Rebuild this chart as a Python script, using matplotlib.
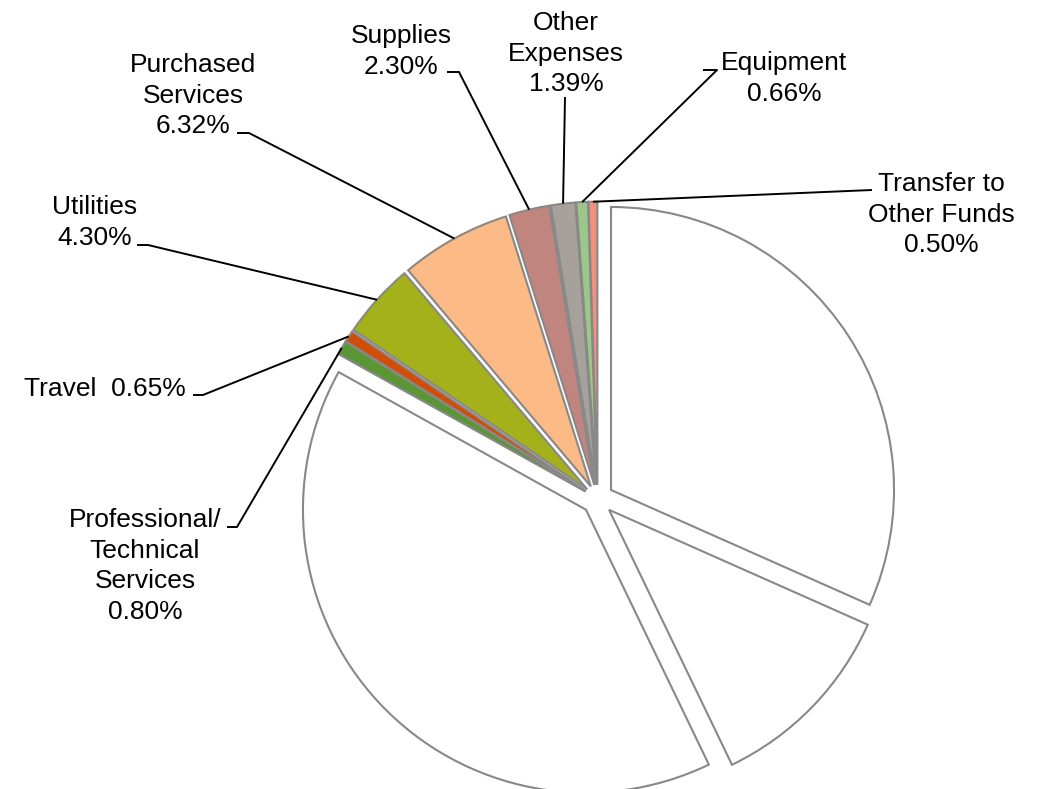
import numpy as np
import matplotlib
matplotlib.use("Agg")
import matplotlib.pyplot as plt

# ---------------- data ----------------
# three unlabeled (white) slices, clockwise from 12 o'clock
unlabeled_values = [31.65, 11.20, 40.23]
# labeled slices, continuing clockwise
categories = ["Professional/\nTechnical\nServices", "Travel", "Utilities",
              "Purchased\nServices", "Supplies", "Other\nExpenses",
              "Equipment", "Transfer to\nOther Funds"]
percents = [0.80, 0.65, 4.30, 6.32, 2.30, 1.39, 0.66, 0.50]

# ---------------- style ----------------
W, H = 1038, 789
colors_unlabeled = ["#FFFFFF"] * 3
colors_labeled = ["#5A9634", "#D24E08", "#A4B11A", "#FBBA86",
                  "#C0857F", "#A6A29B", "#9DC68A", "#F2917E"]
center_img = (597.6, 498.7)
radius = 283
# explode distances in pixels (matplotlib uses absolute data units)
explode = [16] * 3 + [14] * 8

# label layout in image pixel coords: (x center, first baseline, path points from elbow outward)
label_layout = [
    (145, 527, [(237, 527), (227, 527)]),   # Professional
    (105, 396, [(203, 395), (193, 395)]),   # Travel (single line)
    (94.5, 214, [(148, 245), (137, 245)]),  # Utilities
    (193, 72, [(249, 133), (237, 133)]),    # Purchased Services
    (401, 43, [(459, 72), (447, 72)]),      # Supplies
    (566, 30, [(565, 97)]),                 # Other Expenses
    (784, 70, [(717, 70), (703, 70)]),      # Equipment
    (941, 191, [(872, 190)]),               # Transfer
]
line_step = 30.7

plt.rcParams['font.family'] = ['Liberation Sans', 'DejaVu Sans']

fig = plt.figure(figsize=(W / 100, H / 100), dpi=100)
ax = fig.add_axes([0, 0, 1, 1])

values = unlabeled_values + percents
colors = colors_unlabeled + colors_labeled
cx, cy = center_img[0], H - center_img[1]
wedges, _ = ax.pie(values, colors=colors, explode=explode, startangle=90,
                   counterclock=False, center=(cx, cy), radius=radius,
                   wedgeprops=dict(edgecolor="#888888", linewidth=1.5))

ax.set_xlim(0, W)
ax.set_ylim(0, H)
ax.set_aspect('equal')
ax.axis('off')

for i, (cat, pct) in enumerate(zip(categories, percents)):
    wdg = wedges[3 + i]
    mid = np.deg2rad((wdg.theta1 + wdg.theta2) / 2)
    ex, ey = wdg.center[0] + wdg.r * np.cos(mid), wdg.center[1] + wdg.r * np.sin(mid)
    xc, y0, path = label_layout[i]
    xs = [ex] + [p[0] for p in path]
    ys = [ey] + [H - p[1] for p in path]
    ax.plot(xs, ys, color="black", linewidth=1.4, solid_capstyle='butt')
    if cat == "Travel":
        lines = [f"{cat}  {pct:.2f}%"]
    else:
        lines = cat.split("\n") + [f"{pct:.2f}%"]
    for j, ln in enumerate(lines):
        ax.text(xc, H - (y0 + j * line_step), ln, ha='center', va='baseline',
                fontsize=19, color='black')

fig.savefig("out.png", dpi=100)
